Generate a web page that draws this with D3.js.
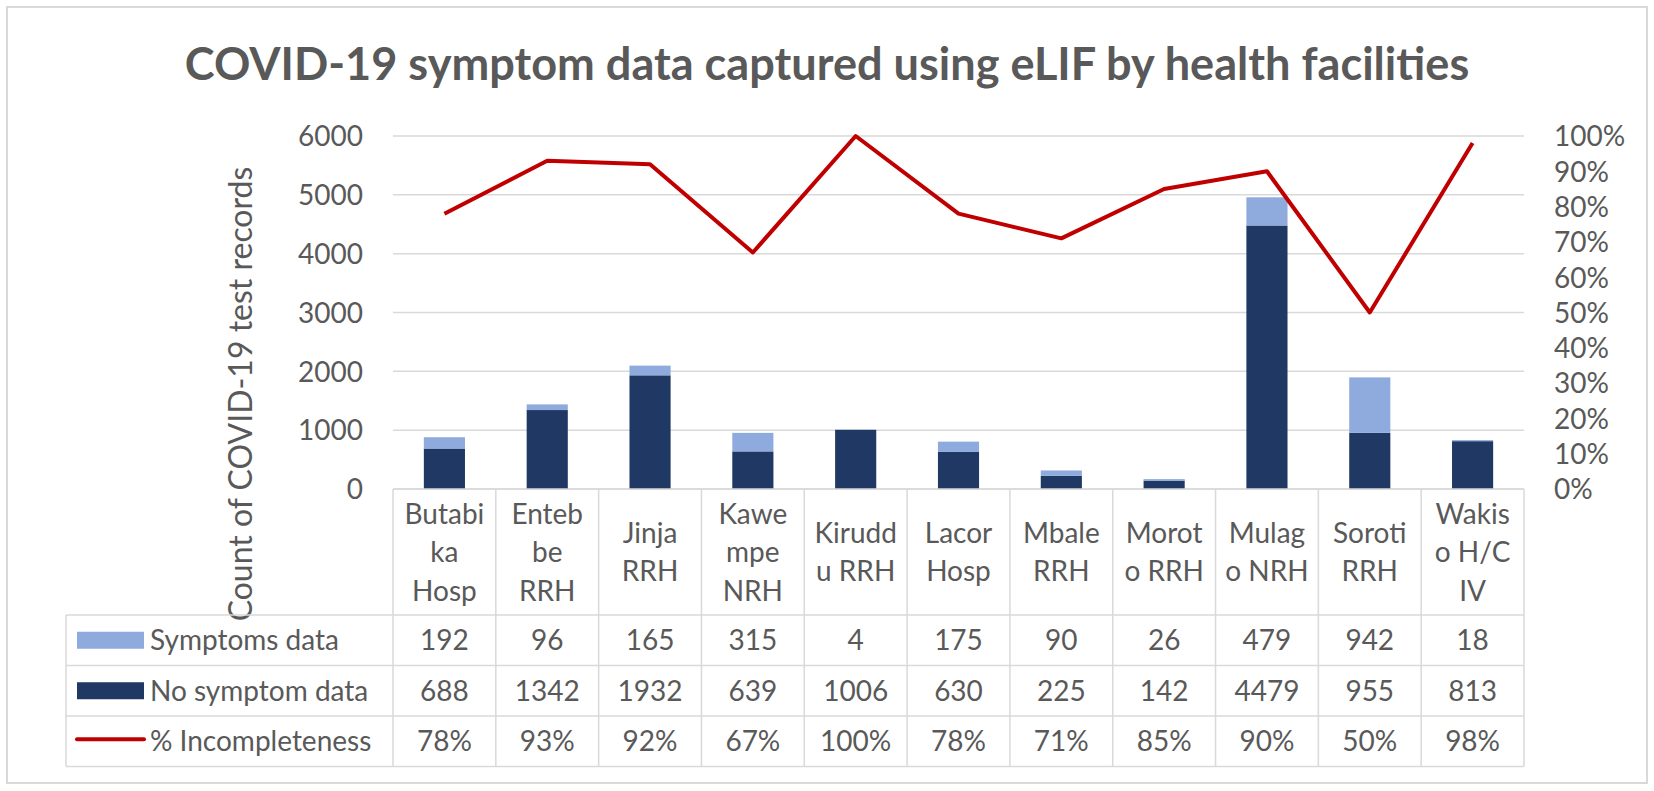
<!DOCTYPE html>
<html>
<head>
<meta charset="utf-8">
<script src="https://cdn.jsdelivr.net/npm/d3@7"></script>
<style>
  html, body { margin: 0; padding: 0; background: #ffffff; }
  svg { display: block; font-family: Lato, "Open Sans", sans-serif; }
</style>
</head>
<body>
<svg id="chart"></svg>
<script>
const facilities = ["Butabika Hosp", "Entebbe RRH", "Jinja RRH", "Kawempe NRH", "Kiruddu RRH",
  "Lacor Hosp", "Mbale RRH", "Moroto RRH", "Mulago NRH", "Soroti RRH", "Wakiso H/C IV"];
// how the header cells wrap in the original table
const headerLines = [["Butabi", "ka", "Hosp"], ["Enteb", "be", "RRH"], ["Jinja", "RRH"],
  ["Kawe", "mpe", "NRH"], ["Kirudd", "u RRH"], ["Lacor", "Hosp"], ["Mbale", "RRH"],
  ["Morot", "o RRH"], ["Mulag", "o NRH"], ["Soroti", "RRH"], ["Wakis", "o H/C", "IV"]];
const symptomsData = [192, 96, 165, 315, 4, 175, 90, 26, 479, 942, 18];
const noSymptomData = [688, 1342, 1932, 639, 1006, 630, 225, 142, 4479, 955, 813];
const incompleteness = [78, 93, 92, 67, 100, 78, 71, 85, 90, 50, 98];
const leftTicks = [0, 1000, 2000, 3000, 4000, 5000, 6000];
const rightTicks = [0, 10, 20, 30, 40, 50, 60, 70, 80, 90, 100];
const seriesNames = ["Symptoms data", "No symptom data", "% Incompleteness"];

const width = 1654;
const height = 791;
const textColor = "#595959";
const gridColor = "#d9d9d9";
const lightBlue = "#8faadc";
const darkBlue = "#203864";
const red = "#c00000";
const fontSize = "28px";

const plotLeft = 393, plotRight = 1524, plotTop = 136, plotBottom = 489;
const rowH = 50.5, headerBottom = 615, tableLeft = 66;

let svg = d3.select("#chart").attr("width", width).attr("height", height);

// outer frame
svg.append("rect")
  .attr("x", 7).attr("y", 7)
  .attr("width", width - 14).attr("height", height - 15)
  .attr("fill", "#fff").attr("stroke", gridColor).attr("stroke-width", 2);

// title, fitted to the width it has in the original
let title = svg.append("text")
  .attr("x", width / 2).attr("y", 80)
  .attr("text-anchor", "middle")
  .attr("fill", textColor)
  .style("font-weight", "bold")
  .style("font-size", "44px")
  .text("COVID-19 symptom data captured using eLIF by health facilities");
const tw = title.node().getComputedTextLength();
title.style("font-size", (44 * 1286 / tw).toFixed(1) + "px");

const xScale = d3.scaleBand().domain(facilities).range([plotLeft, plotRight]).padding(0);
const yScale = d3.scaleLinear().domain([0, 6000]).range([plotBottom, plotTop]);
const y2Scale = d3.scaleLinear().domain([0, 100]).range([plotBottom, plotTop]);

// gridlines
svg.append("g")
  .selectAll("line")
  .data(leftTicks)
  .enter()
  .append("line")
  .attr("x1", plotLeft).attr("x2", plotRight)
  .attr("y1", d => yScale(d)).attr("y2", d => yScale(d))
  .attr("stroke", gridColor).attr("stroke-width", 1.5);

// left axis
let yAxis = d3.axisLeft(yScale).tickValues(leftTicks).tickSize(0).tickPadding(30)
  .tickFormat(d3.format("d"));
let gy = svg.append("g").attr("transform", "translate(" + plotLeft + ",0)").call(yAxis);
gy.select(".domain").remove();
gy.selectAll("text").attr("fill", textColor).style("font-size", fontSize).attr("dy", "0.35em")
  .style("font-family", "Lato, sans-serif");

// right axis
let y2Axis = d3.axisRight(y2Scale).tickValues(rightTicks).tickSize(0).tickPadding(30)
  .tickFormat(d => d + "%");
let gy2 = svg.append("g").attr("transform", "translate(" + plotRight + ",0)").call(y2Axis);
gy2.select(".domain").remove();
gy2.selectAll("text").attr("fill", textColor).style("font-size", fontSize).attr("dy", "0.35em")
  .style("font-family", "Lato, sans-serif");

// y axis title
svg.append("text")
  .attr("transform", "translate(252," + 394 + ") rotate(-90)")
  .attr("text-anchor", "middle")
  .attr("fill", textColor)
  .style("font-size", "32px")
  .text("Count of COVID-19 test records");

// stacked bars
const rows = facilities.map((f, i) => ({ facility: f, none: noSymptomData[i], symptoms: symptomsData[i] }));
const stacked = d3.stack().keys(["none", "symptoms"])(rows);
const barColor = { none: darkBlue, symptoms: lightBlue };
const barW = xScale.bandwidth() / 2.5;

svg.append("g")
  .selectAll("g")
  .data(stacked)
  .enter()
  .append("g")
  .attr("fill", d => barColor[d.key])
  .selectAll("rect")
  .data(d => d)
  .enter()
  .append("rect")
  .attr("x", d => xScale(d.data.facility) + (xScale.bandwidth() - barW) / 2)
  .attr("width", barW)
  .attr("y", d => yScale(d[1]))
  .attr("height", d => yScale(d[0]) - yScale(d[1]));

// incompleteness line
const line = d3.line()
  .x((d, i) => xScale(facilities[i]) + xScale.bandwidth() / 2)
  .y(d => y2Scale(d));

svg.append("path")
  .datum(incompleteness)
  .attr("d", line)
  .attr("fill", "none")
  .attr("stroke", red)
  .attr("stroke-width", 4)
  .attr("stroke-linejoin", "round");

// data table
let table = svg.append("g").attr("stroke", gridColor).attr("stroke-width", 1.5);
const tableBottom = headerBottom + rowH * 3;
// horizontal lines
table.append("line").attr("x1", plotLeft).attr("x2", plotRight).attr("y1", plotBottom).attr("y2", plotBottom);
[0, 1, 2, 3].forEach(r => {
  table.append("line")
    .attr("x1", tableLeft).attr("x2", plotRight)
    .attr("y1", headerBottom + r * rowH).attr("y2", headerBottom + r * rowH);
});
// vertical lines
table.append("line").attr("x1", tableLeft).attr("x2", tableLeft).attr("y1", headerBottom).attr("y2", tableBottom);
facilities.forEach((f, i) => {
  table.append("line")
    .attr("x1", xScale(f)).attr("x2", xScale(f))
    .attr("y1", plotBottom).attr("y2", tableBottom);
});
table.append("line").attr("x1", plotRight).attr("x2", plotRight).attr("y1", plotBottom).attr("y2", tableBottom);

// header labels
const headerMid = (plotBottom + headerBottom) / 2;
const lineH = 38.5;
let headers = svg.append("g")
  .attr("fill", textColor)
  .style("font-size", fontSize)
  .attr("text-anchor", "middle");
headerLines.forEach((lines, i) => {
  lines.forEach((t, j) => {
    headers.append("text")
      .attr("x", xScale(facilities[i]) + xScale.bandwidth() / 2)
      .attr("y", headerMid + (j - (lines.length - 1) / 2) * lineH + 10)
      .text(t);
  });
});

// rows of values
const tableRows = [
  symptomsData.map(String),
  noSymptomData.map(String),
  incompleteness.map(d => d + "%")
];
let cells = svg.append("g")
  .attr("fill", textColor)
  .style("font-size", fontSize)
  .attr("text-anchor", "middle");
tableRows.forEach((vals, r) => {
  vals.forEach((v, i) => {
    cells.append("text")
      .attr("x", xScale(facilities[i]) + xScale.bandwidth() / 2)
      .attr("y", headerBottom + r * rowH + rowH / 2 + 10)
      .text(v);
  });
});

// legend keys in the table
let keys = svg.append("g");
seriesNames.forEach((name, r) => {
  const cy = headerBottom + r * rowH + rowH / 2;
  if (r < 2) {
    keys.append("rect")
      .attr("x", 77).attr("y", cy - 8.5)
      .attr("width", 67).attr("height", 17)
      .attr("fill", r === 0 ? lightBlue : darkBlue);
  } else {
    keys.append("line")
      .attr("x1", 77).attr("x2", 144)
      .attr("y1", cy - 2).attr("y2", cy - 2)
      .attr("stroke", red).attr("stroke-width", 4).attr("stroke-linecap", "round");
  }
  keys.append("text")
    .attr("x", 150).attr("y", cy + 10)
    .attr("fill", textColor)
    .style("font-size", fontSize)
    .text(name);
});
</script>
</body>
</html>
